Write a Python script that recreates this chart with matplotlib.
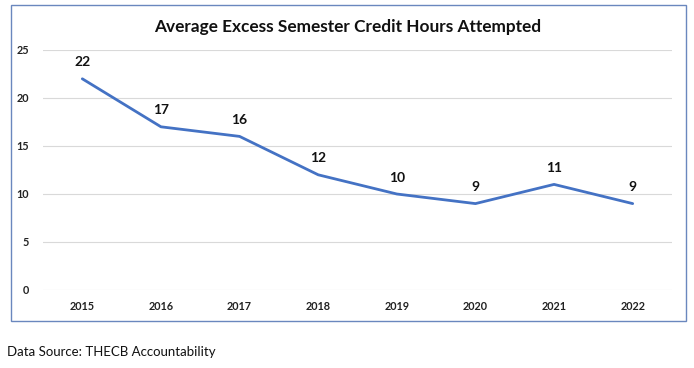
import matplotlib
matplotlib.use("Agg")
import matplotlib.pyplot as plt
from matplotlib.patches import Rectangle

years = ["2015", "2016", "2017", "2018", "2019", "2020", "2021", "2022"]
values = [22, 17, 16, 12, 10, 9, 11, 9]
yticks = [0, 5, 10, 15, 20, 25]

plt.rcParams['font.family'] = ['Lato', 'DejaVu Sans']

fig = plt.figure(figsize=(6.94, 3.68), dpi=100)
W, H = 694, 368
ax = fig.add_axes([43 / W, 1 - 290 / H, (672 - 43) / W, (290 - 50) / H])

x = list(range(len(years)))
ax.plot(x, values, color="#4472C4", lw=2.0, solid_capstyle="round")
for xi, v in zip(x, values):
    ax.annotate(str(v), (xi, v), xytext=(0, 7.5), textcoords="offset points",
                ha="center", va="bottom", fontsize=10, fontweight="bold", color="#111111")

ax.set_xlim(-0.5, len(years) - 0.5)
ax.set_ylim(0, 25)
ax.set_yticks(yticks)
ax.set_xticks(x)
ax.set_xticklabels(years)
ax.grid(axis="y", color="#D9D9D9", lw=0.8)
ax.set_axisbelow(True)
for s in ax.spines.values():
    s.set_visible(False)
ax.tick_params(length=0, labelsize=7.8, colors="#222222")
ax.tick_params(axis="y", pad=10)
ax.tick_params(axis="x", pad=8)
for lab in ax.get_xticklabels() + ax.get_yticklabels():
    lab.set_fontweight("bold")

fig.text(348 / W, 1 - 27 / H, "Average Excess Semester Credit Hours Attempted",
         ha="center", va="center", fontsize=12.4, fontweight="bold", color="#111111")

fig.patches.append(Rectangle((11 / W, 1 - 321 / H), 675 / W, 316 / H,
                             transform=fig.transFigure, fill=False,
                             edgecolor="#6A87BE", lw=1.0))

fig.text(7 / W, 1 - 352 / H, "Data Source: THECB Accountability",
         ha="left", va="center", fontsize=9.5, color="#111111")

fig.savefig("out.png", dpi=100)
